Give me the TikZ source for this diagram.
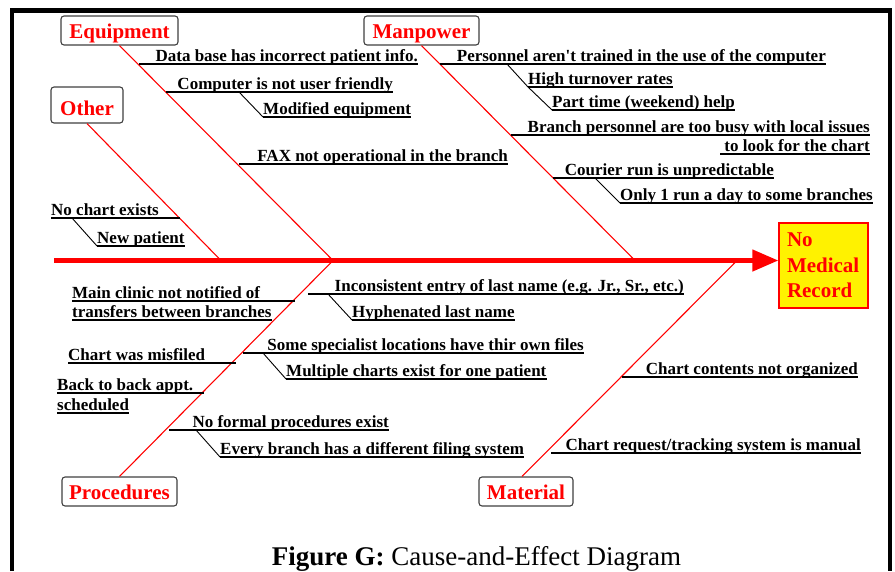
\documentclass[tikz,border=0pt]{standalone}
\usepackage{fontspec}
\setmainfont{Liberation Serif}
\usetikzlibrary{arrows.meta,calc}
\begin{document}
\begin{tikzpicture}[x=1pt,y=-1pt,
  cat/.style={draw=black!75, line width=1.1pt, rounded corners=3pt, fill=white, text=red,
    font=\fontsize{21}{25}\selectfont\bfseries, inner sep=0pt, text height=16pt, text depth=1pt, minimum height=29pt},
  effbox/.style={draw=red, line width=1.3pt, fill=yellow, minimum width=89pt, minimum height=85pt,
    text width=73pt, align=left, inner xsep=8pt, inner ysep=0pt, text=red,
    font=\fontsize{21}{25.5}\selectfont\bfseries},
  bone/.style={draw=red, line width=1.1pt},
  sub/.style={draw=black, line width=1.8pt},
  diag/.style={draw=black, line width=0.9pt},
  lbl/.style={font=\fontsize{17}{19}\selectfont\bfseries, inner sep=0pt, text=black}]
\useasboundingbox (0,0) rectangle (895,571);
% frame
\draw[line width=4.5pt, line join=miter] (12,571) -- (12,10.5) -- (890,10.5) -- (890,571);

% effect and categories
\node[effbox] (eff) at (823.5,265.5) {No\\Medical\\Record};
\node[cat, minimum width=117pt] (eq) at (119.5,30.5) {Equipment};
\node[cat, minimum width=115pt] (mp) at (421.5,30.5) {Manpower};
\node[cat, minimum width=72pt, minimum height=36pt, text height=20pt, text depth=0pt] (ot) at (87,105) {Other};
\node[cat, minimum width=115pt] (pr) at (119.5,491.5) {Procedures};
\node[cat, minimum width=94pt] (ma) at (526,491.5) {Material};

% spine
\coordinate (s0) at (54,260.5);
\draw[red, line width=4.5pt, -{Triangle[length=26pt,width=21pt]}] (s0) -- (s0 -| eff.west);

% bone junctions
\coordinate (jOt) at (221,260.5);
\coordinate (jEq) at (333,260.5);
\coordinate (jMp) at (635,260.5);
\coordinate (jMa) at (737,260.5);
\draw[bone] (eq.south) -- (jEq);
\draw[bone] (ot.south) -- (jOt);
\draw[bone] (mp.south) -- (jMp);
\draw[bone] (jEq) -- (pr.north);
\draw[bone] (jMa) -- ([xshift=-4pt]ma.north);

% ---------- Equipment ----------
\coordinate (e1s) at (139,64);
\node[lbl, anchor=base east] (te1) at (418,61.5) {Data base has incorrect patient info.};
\draw[sub] (e1s) -- (e1s -| te1.east);

\coordinate (e2s) at (166,92);
\node[lbl, anchor=base east] (te2) at (393,89.5) {Computer is not user friendly};
\draw[sub] (e2s) -- (e2s -| te2.east);

\coordinate (e2a1) at (239,92);
\coordinate (e2a2) at (263,117);
\node[lbl, anchor=base west] (te2a) at (263,114.5) {Modified equipment};
\draw[diag] (e2a1) -- (e2a2);
\draw[sub] (e2a2) -- (e2a2 -| te2a.east);

\coordinate (e3s) at (239,164);
\node[lbl, anchor=base east] (te3) at (508,161.5) {FAX not operational in the branch};
\draw[sub] (e3s) -- (e3s -| te3.east);

% ---------- Other ----------
\coordinate (o1e) at (180,218);
\node[lbl, anchor=base west] (to1) at (51,215.5) {No chart exists};
\draw[sub] (to1.west |- o1e) -- (o1e);

\coordinate (o1a1) at (72,218);
\coordinate (o1a2) at (97,246);
\node[lbl, anchor=base west] (to1a) at (97,243.5) {New patient};
\draw[diag] (o1a1) -- (o1a2);
\draw[sub] (o1a2) -- (o1a2 -| to1a.east);

% ---------- Manpower ----------
\coordinate (m1s) at (440,64);
\node[lbl, anchor=base east] (tm1) at (826,61.5) {Personnel aren\textquotesingle t trained in the use of the computer};
\draw[sub] (m1s) -- (m1s -| tm1.east);

\coordinate (m1a1) at (507,64);
\coordinate (m1a2) at (528,87);
\coordinate (m1a3) at (552,110);
\node[lbl, anchor=base west] (tm1a) at (528,84.5) {High turnover rates};
\node[lbl, anchor=base west] (tm1b) at (552,107.5) {Part time (weekend) help};
\draw[diag] (m1a1) -- (m1a2) -- (m1a3);
\draw[sub] (m1a2) -- (m1a2 -| tm1a.east);
\draw[sub] (m1a3) -- (m1a3 -| tm1b.east);

\coordinate (m2s) at (511,135);
\node[lbl, anchor=base east] (tm2) at (870,132.5) {Branch personnel are too busy with local issues};
\draw[sub] (m2s) -- (m2s -| tm2.east);
\node[lbl, anchor=base east] (tm2b) at (870,151.5) {to look for the chart};
\coordinate (m2u) at ([xshift=-4pt]tm2b.south west);
\draw[sub] (m2u |- 0,154) -- (tm2b.east |- 0,154);

\coordinate (m3s) at (553,178);
\node[lbl, anchor=base east] (tm3) at (774,175.5) {Courier run is unpredictable};
\draw[sub] (m3s) -- (m3s -| tm3.east);

\coordinate (m3a1) at (595,178);
\coordinate (m3a2) at (620,203);
\node[lbl, anchor=base west] (tm3a) at (620,200.5) {Only 1 run a day to some branches};
\draw[diag] (m3a1) -- (m3a2);
\draw[sub] (m3a2) -- (m3a2 -| tm3a.east);

% ---------- Procedures ----------
\coordinate (p1e) at (295,301);
\node[lbl, anchor=base west] (tp1) at (72,298.5) {Main clinic not notified of};
\draw[sub] (tp1.west |- p1e) -- (p1e);
\node[lbl, anchor=base west] (tp1b) at (72,317.5) {transfers between branches};
\draw[sub] (tp1b.west |- 0,320) -- (tp1b.east |- 0,320);

\coordinate (p2e) at (236,363);
\node[lbl, anchor=base west] (tp2) at (68,360.5) {Chart was misfiled};
\draw[sub] (tp2.west |- p2e) -- (p2e);

\coordinate (p3e) at (204,393);
\node[lbl, anchor=base west] (tp3) at (57,390.5) {Back to back appt.};
\draw[sub] (tp3.west |- p3e) -- (p3e);
\node[lbl, anchor=base west] (tp3b) at (57,410.5) {scheduled};
\draw[sub] (tp3b.west |- 0,413) -- (tp3b.east |- 0,413);

\coordinate (p4s) at (308,294);
\node[lbl, anchor=base east] (tp4) at (684,291.5) {Inconsistent entry of last name (e.g. Jr., Sr., etc.)};
\draw[sub] (p4s) -- (p4s -| tp4.east);

\coordinate (p4a1) at (328,294);
\coordinate (p4a2) at (352,320);
\node[lbl, anchor=base west] (tp4a) at (352,317.5) {Hyphenated last name};
\draw[diag] (p4a1) -- (p4a2);
\draw[sub] (p4a2) -- (p4a2 -| tp4a.east);

\coordinate (p5s) at (243,353);
\node[lbl, anchor=base east] (tp5) at (584,350.5) {Some specialist locations have thir own files};
\draw[sub] (p5s) -- (p5s -| tp5.east);

\coordinate (p5a1) at (263,353);
\coordinate (p5a2) at (286,379);
\node[lbl, anchor=base west] (tp5a) at (286,376.5) {Multiple charts exist for one patient};
\draw[diag] (p5a1) -- (p5a2);
\draw[sub] (p5a2) -- (p5a2 -| tp5a.east);

\coordinate (p6s) at (169,430);
\node[lbl, anchor=base east] (tp6) at (389,427.5) {No formal procedures exist};
\draw[sub] (p6s) -- (p6s -| tp6.east);

\coordinate (p6a1) at (196,430);
\coordinate (p6a2) at (220,457);
\node[lbl, anchor=base west] (tp6a) at (220,454.5) {Every branch has a different filing system};
\draw[diag] (p6a1) -- (p6a2);
\draw[sub] (p6a2) -- (p6a2 -| tp6a.east);

% ---------- Material ----------
\coordinate (a1s) at (622,377);
\node[lbl, anchor=base east] (ta1) at (858,374.5) {Chart contents not organized};
\draw[sub] (a1s) -- (a1s -| ta1.east);

\coordinate (a2s) at (551,453);
\node[lbl, anchor=base east] (ta2) at (861,450.5) {Chart request/tracking system is manual};
\draw[sub] (a2s) -- (a2s -| ta2.east);

% caption
\node[font=\fontsize{27}{30}\selectfont, anchor=base, inner sep=0pt] (cap) at (476.5,565) {\textbf{Figure G:} Cause-and-Effect Diagram};
\end{tikzpicture}
\end{document}
